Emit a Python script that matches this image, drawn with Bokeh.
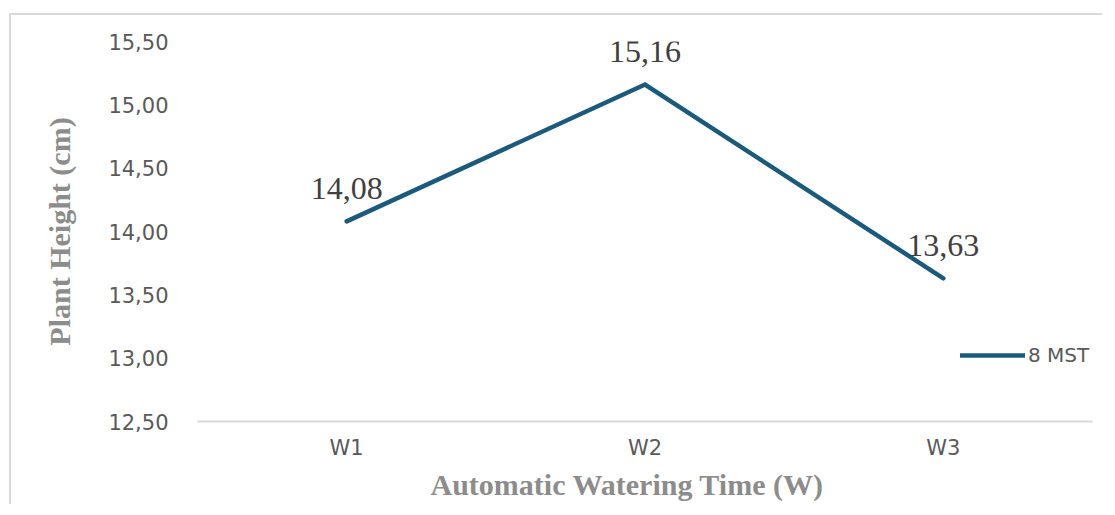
from bokeh.plotting import figure
from bokeh.models import ColumnDataSource, Legend, LegendItem, FactorRange, FixedTicker, CustomJSTickFormatter, Title
from bokeh.core.properties import value
from bokeh.embed import file_html
from bokeh.resources import INLINE

categories = ["W1", "W2", "W3"]
heights = [14.08, 15.16, 13.63]
value_labels = ["14,08", "15,16", "13,63"]
y_ticks = [12.5, 13.0, 13.5, 14.0, 14.5, 15.0, 15.5]
series_name = "8 MST"
x_title = "Automatic Watering Time (W)"
y_title = "Plant Height (cm)"

src = ColumnDataSource(dict(x=categories, y=heights, lab=value_labels))

p = figure(frame_width=895, frame_height=380, x_range=FactorRange(*categories, range_padding=0),
           y_range=(12.5, 15.5), output_backend="svg", toolbar_location=None,
           min_border_left=186, min_border_right=10, min_border_top=26, min_border_bottom=78)
p.margin = (13, 0, 0, 9)
p.styles = {"border-left": "2px solid #d9d9d9", "border-top": "2px solid #d9d9d9"}
p.outline_line_color = None
p.xgrid.grid_line_color = None
p.ygrid.grid_line_color = None
p.background_fill_color = "white"
p.border_fill_color = "white"

r = p.line("x", "y", source=src, line_color="#1b5a7b", line_width=4.5, line_cap="round", line_join="miter")
p.text("x", "y", text="lab", source=src, text_align="center", text_baseline="alphabetic",
       y_offset=-33, text_font=value("Liberation Serif"), text_font_size="32px", text_color="#404040")

# y axis
p.yaxis.ticker = FixedTicker(ticks=y_ticks)
p.yaxis.formatter = CustomJSTickFormatter(code="return tick.toFixed(2).replace('.', ',');")
p.yaxis.axis_line_color = None
p.yaxis.major_tick_line_color = None
p.yaxis.minor_tick_line_color = None
p.yaxis.major_tick_out = 0
p.yaxis.major_label_standoff = 29
p.yaxis.major_label_text_font = "DejaVu Sans"
p.yaxis.major_label_text_font_size = "21px"
p.yaxis.major_label_text_color = "#595959"
p.yaxis.axis_label = y_title
p.yaxis.axis_label_text_font = "Liberation Serif"
p.yaxis.axis_label_text_font_style = "bold"
p.yaxis.axis_label_text_font_size = "30px"
p.yaxis.axis_label_text_color = "#8c8c8c"
p.yaxis.axis_label_standoff = 29

# x axis
p.xaxis.axis_line_color = "#d9d9d9"
p.xaxis.axis_line_width = 2
p.xaxis.major_tick_line_color = None
p.xaxis.major_tick_out = 0
p.xaxis.major_label_standoff = 14
p.xaxis.major_label_text_font = "DejaVu Sans"
p.xaxis.major_label_text_font_size = "21px"
p.xaxis.major_label_text_color = "#595959"

xt = Title(text=x_title, align="left", offset=233, standoff=7,
           text_font="Liberation Serif", text_font_style="bold", text_font_size="30px",
           text_color="#8c8c8c")
p.add_layout(xt, "below")

legend = Legend(items=[LegendItem(label=series_name, renderers=[r])], location=(763, 54),
                glyph_width=65, glyph_height=20, label_height=20, label_standoff=3,
                padding=0, margin=0, border_line_color=None, background_fill_alpha=0,
                label_text_font="DejaVu Sans", label_text_font_size="20px", label_text_color="#595959")
p.add_layout(legend)

open("out.html", "w").write(file_html(p, INLINE))
